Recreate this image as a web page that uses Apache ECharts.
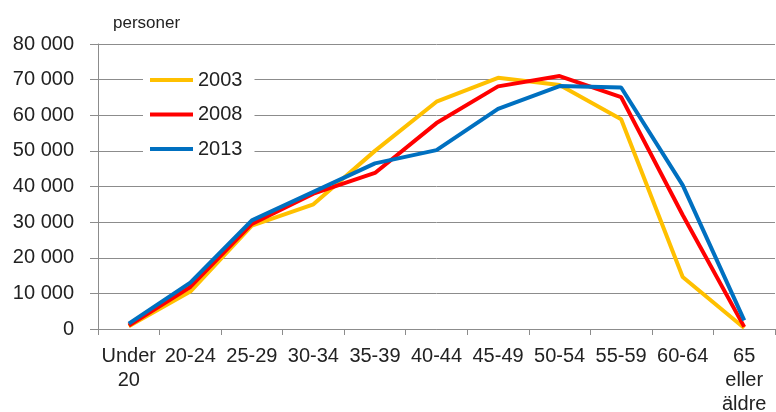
<!DOCTYPE html>
<html>
<head>
<meta charset="utf-8">
<script src="https://cdn.jsdelivr.net/npm/echarts@6/dist/echarts.min.js"></script>
<style>
  html, body { margin: 0; padding: 0; background: #fff; }
  #main { width: 776px; height: 412px; }
</style>
</head>
<body>
<div id="main"></div>
<script>
// Åldersgrupper
const categories = ['Under\n20', '20-24', '25-29', '30-34', '35-39', '40-44', '45-49', '50-54', '55-59', '60-64', '65\neller\näldre'];

// Antal personer per år
const values2003 = [800, 10500, 29000, 35000, 50000, 63800, 70500, 68500, 58900, 14600, 300];
const values2008 = [1000, 11800, 29500, 38000, 43800, 57800, 68100, 71000, 65100, 32000, 600];
const values2013 = [1500, 13000, 30500, 38500, 46500, 50200, 61800, 68200, 67800, 40400, 2400];

const years = ['2003', '2008', '2013'];
const colors = ['#FFC000', '#FF0000', '#0070C0'];

const font = 'Liberation Sans, Arial, sans-serif';

// tusental med mellanslag: 80000 -> "80 000"
function fmt(v) {
  return String(v).replace(/\B(?=(\d{3})+(?!\d))/g, ' ');
}

const chart = echarts.init(document.getElementById('main'));

const option = {
  animation: false,
  color: colors,
  grid: { left: 98, right: 1, top: 44, bottom: 83, outerBoundsMode: 'none', containLabel: false },
  legend: {
    orient: 'vertical',
    left: 143,
    top: 61,
    padding: [8, 12, 8, 7],
    backgroundColor: '#fff',
    itemGap: 12.5,
    itemWidth: 43,
    itemHeight: 4,
    icon: 'rect',
    textStyle: { fontFamily: font, fontSize: 20, color: '#222', lineHeight: 22 },
    data: years
  },
  xAxis: {
    type: 'category',
    data: categories,
    boundaryGap: true,
    axisLine: { lineStyle: { color: '#8c8c8c', width: 1 } },
    axisTick: { show: true, length: 6, lineStyle: { color: '#8c8c8c' } },
    axisLabel: {
      interval: 0,
      margin: 15,
      fontFamily: font,
      fontSize: 20,
      color: '#222',
      lineHeight: 24
    }
  },
  yAxis: {
    type: 'value',
    min: 0,
    max: 80000,
    interval: 10000,
    name: 'personer',
    nameLocation: 'end',
    nameGap: 12,
    nameTextStyle: { fontFamily: font, fontSize: 17, color: '#222', align: 'left', padding: [0, 0, 0, 15] },
    axisLine: { show: true, lineStyle: { color: '#8c8c8c', width: 1 } },
    axisTick: { show: true, length: 8, lineStyle: { color: '#8c8c8c' } },
    axisLabel: {
      margin: 24,
      fontFamily: font,
      fontSize: 20,
      color: '#222',
      formatter: fmt
    },
    splitLine: { lineStyle: { color: '#8c8c8c', width: 1 } }
  },
  series: [values2003, values2008, values2013].map((d, i) => ({
    name: years[i],
    type: 'line',
    data: d,
    symbol: 'none',
    lineStyle: { width: 4, color: colors[i] },
    itemStyle: { color: colors[i] }
  }))
};

chart.setOption(option);
</script>
</body>
</html>
